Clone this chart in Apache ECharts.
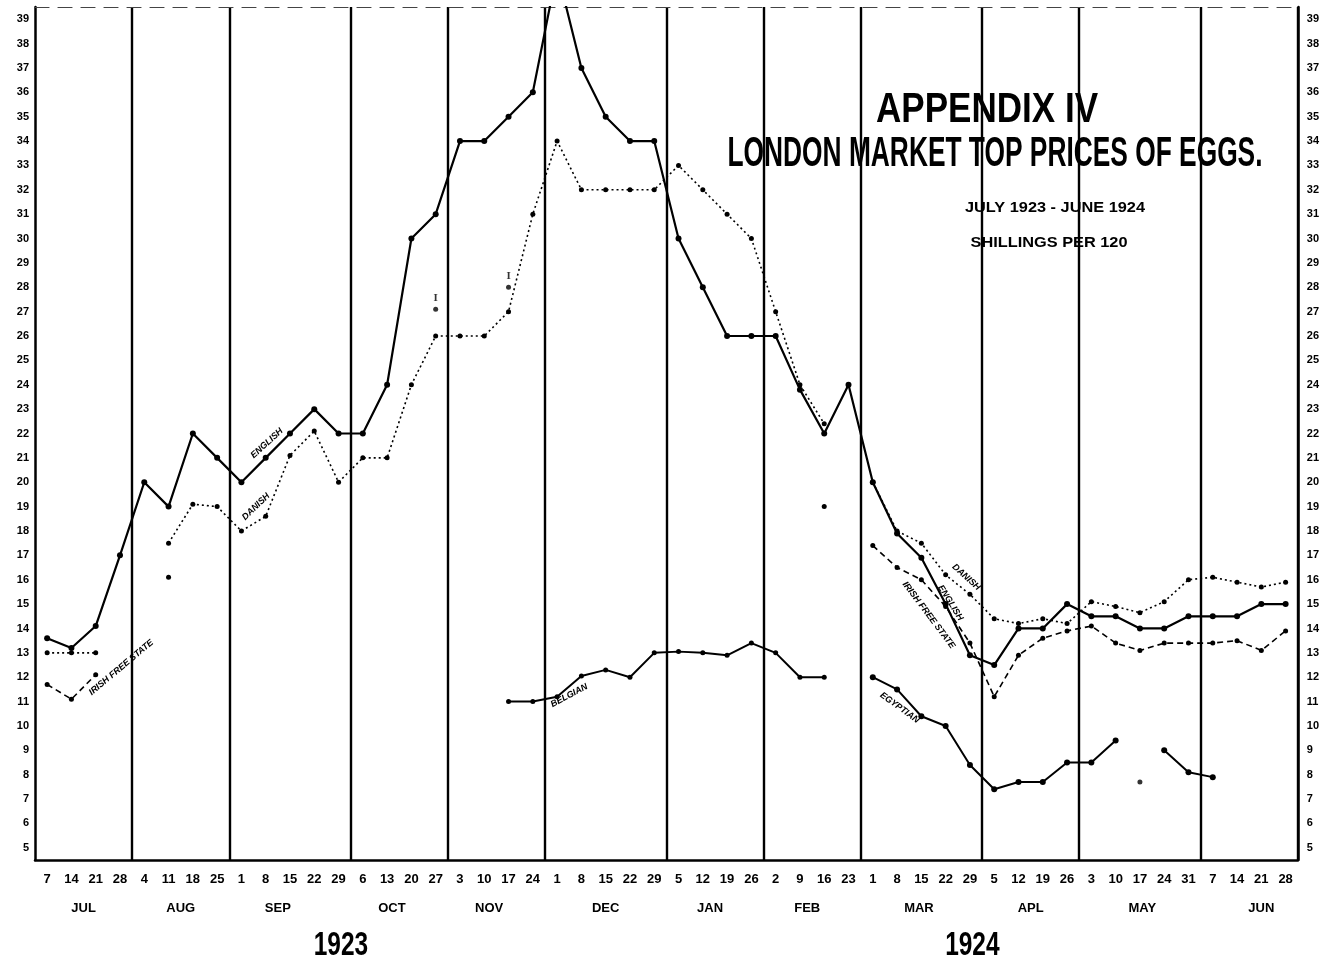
<!DOCTYPE html>
<html><head><meta charset="utf-8">
<script src="https://cdn.jsdelivr.net/npm/echarts@6/dist/echarts.min.js"></script>
<style>html,body{margin:0;padding:0;background:#fff}#c{width:1322px;height:964px}</style>
</head><body><div id="c"></div>
<script>
// ---- data ----
const weekLabels = ['7','14','21','28','4','11','18','25','1','8','15','22','29','6','13','20','27','3','10','17','24','1','8','15','22','29','5','12','19','26','2','9','16','23','1','8','15','22','29','5','12','19','26','3','10','17','24','31','7','14','21','28'];
const monthNames = ['JUL','AUG','SEP','OCT','NOV','DEC','JAN','FEB','MAR','APL','MAY','JUN'];
const monthWeeks = [4,4,5,4,4,5,4,4,5,4,5,4];
const yearNames = ['1923','1924'];
const yearMonths = [6,6];
const english = [13.6,13.2,14.1,17,20,19,22,21,20,21,22,23,22,22,24,30,31,34,34,35,36,41,37,35,34,34,30,28,26,26,26,23.8,22,24,
  20,17.9,16.9,15,12.9,12.5,14,14,15,14.5,14.5,14,14,14.5,14.5,14.5,15,15];
const danish = [13,13,13,null,null,17.5,19.1,19,18,18.6,21.1,22.1,20,21,21,24,26,26,26,27,31,34,32,32,32,32,33,32,31,30,27,24,22.4,null,
  20,18,17.5,16.2,15.4,14.4,14.2,14.4,14.2,15.1,14.9,14.65,15.1,16,16.1,15.9,15.7,15.9];
const irish = [11.7,11.1,12.1,null,null,16.1,null,null,null,null,null,null,null,null,null,null,null,null,null,null,null,null,null,null,null,null,null,null,null,null,null,null,19,null,
  17.4,16.5,16,14.9,13.4,11.2,12.9,13.6,13.9,14.1,13.4,13.1,13.4,13.4,13.4,13.5,13.1,13.9];
const belgian = [null,null,null,null,null,null,null,null,null,null,null,null,null,null,null,null,null,null,null,
  11,11,11.2,12.05,12.3,12,13,13.05,13,12.9,13.4,13,12,12,null,
  null,null,null,null,null,null,null,null,null,null,null,null,null,null,null,null,null,null];
const egyptian = [null,null,null,null,null,null,null,null,null,null,null,null,null,null,null,null,null,null,null,null,null,null,null,null,null,null,null,null,null,null,null,null,null,null,
  12,11.5,10.4,10,8.4,7.4,7.7,7.7,8.5,8.5,9.4,null,9,8.1,7.9,null,null,null];
const markedQuotes = [[16,27.1],[19,28]];   // isolated quotations marked "I"
const strayQuotes = [[45,7.7]];
const titleLines = ['APPENDIX IV','LONDON MARKET TOP PRICES OF EGGS.','JULY 1923 - JUNE 1924','SHILLINGS PER 120'];

// ---- layout (annotation placement, in week units / axis values) ----
const monthLabelShift = [0,0,-0.5,-0.3,-0.3,0,-0.2,-0.2,-0.1,0,0.1,0.5];
const lineTags = [
  {text:'ENGLISH', idx:9.05, val:21.6, deg:42},
  {text:'DANISH', idx:8.6, val:19.0, deg:44},
  {text:'IRISH FREE STATE', idx:3.05, val:12.4, deg:40},
  {text:'BELGIAN', idx:21.5, val:11.25, deg:28},
  {text:'EGYPTIAN', idx:35.1, val:10.75, deg:-36},
  {text:'DANISH', idx:37.85, val:16.1, deg:-42},
  {text:'ENGLISH', idx:37.2, val:15.05, deg:-58},
  {text:'IRISH FREE STATE', idx:36.3, val:14.55, deg:-53}
];

// ---- chart ----
const FONT = '"Liberation Sans Narrow","Liberation Sans",sans-serif';
const chart = echarts.init(document.getElementById('c'), null, {renderer:'canvas'});
const starts = []; let acc = 0; monthWeeks.forEach(w => { starts.push(acc); acc += w; });
const sepIdx = new Set(starts.slice(1));

const yAxisBase = pos => ({
  type:'value', min:4.5, max:39.5, minInterval:1, maxInterval:1, position:pos,
  axisLine:{show:true, lineStyle:{color:'#000', width:2.5}}, axisTick:{show:false}, splitLine:{show:false},
  axisLabel:{formatter: v => Number.isInteger(v) ? String(v) : '', color:'#000', fontFamily:FONT, fontWeight:'bold', fontSize:11, margin:pos==='left'?6:9}
});
const lineSeries = (name, data, dash, width, size) => ({
  name, type:'line', data, symbol:'circle', symbolSize:size, showAllSymbol:true, connectNulls:false,
  lineStyle:{color:'#000', width, type:dash}, itemStyle:{color:'#000'}, emphasis:{disabled:true}
});

chart.setOption({
  animation:false, backgroundColor:'#fff',
  grid:{left:35, right:21, top:7, height:853},
  xAxis:[
    {type:'category', data:weekLabels, boundaryGap:true,
     axisLine:{lineStyle:{color:'#000', width:2.5}}, axisTick:{show:false},
     axisLabel:{interval:0, color:'#000', fontFamily:FONT, fontWeight:'bold', fontSize:13, margin:13},
     splitLine:{show:true, interval:(i)=>sepIdx.has(i), lineStyle:{color:'#000', width:2.4}}},
    {type:'category', data:weekLabels, position:'top', boundaryGap:true,
     axisLine:{lineStyle:{color:'#444', width:1.2, type:[14,9]}}, axisTick:{show:false}, axisLabel:{show:false}}
  ],
  yAxis:[yAxisBase('left'), yAxisBase('right')],
  series:[
    lineSeries('English', english, 'solid', 2.2, 6),
    lineSeries('Danish', danish, [2,3], 1.6, 5),
    lineSeries('Irish Free State', irish, [6,4], 1.6, 5),
    lineSeries('Belgian', belgian, 'solid', 2, 5),
    lineSeries('Egyptian', egyptian, 'solid', 2, 6),
    {type:'scatter', data:markedQuotes, symbol:'circle', symbolSize:5, itemStyle:{color:'#000'},
     label:{show:true, position:'top', formatter:'I', color:'#000', fontFamily:'serif', fontWeight:'bold', fontSize:11, distance:3}},
    {type:'scatter', data:strayQuotes, symbol:'circle', symbolSize:5, itemStyle:{color:'#000'}}
  ]
});

// ---- annotations via the chart's own scales ----
function px(idx, val){
  const i0 = Math.floor(idx), f = idx - i0;
  const a = chart.convertToPixel({gridIndex:0}, [i0, val]);
  if (f === 0) return a;
  const b = chart.convertToPixel({gridIndex:0}, [i0 + 1, val]);
  return [a[0] + (b[0]-a[0])*f, a[1]];
}
const ctx = document.createElement('canvas').getContext('2d');
function fit(text, font, w){ ctx.font = font; return w / ctx.measureText(text).width; }

const g = [];
const axisY = px(0, 4.5)[1];
starts.forEach((s, m) => {
  const mid = s + (monthWeeks[m]-1)/2 + monthLabelShift[m];
  g.push({type:'text', x:px(mid, 4.5)[0], y:axisY+48, style:{text:monthNames[m], fill:'#000', font:'bold 13px '+FONT, align:'center', verticalAlign:'middle'}});
});
let mAcc = 0;
yearNames.forEach((yr, k) => {
  const first = starts[mAcc], lastM = mAcc + yearMonths[k] - 1;
  const last = starts[lastM] + monthWeeks[lastM] - 1;
  mAcc += yearMonths[k];
  g.push({type:'text', x:px((first+last)/2 - 0.4, 4.5)[0], y:axisY+86, scaleX:0.72,
    style:{text:yr, fill:'#000', font:'bold 34px '+FONT, align:'center', verticalAlign:'middle'}});
});
lineTags.forEach(t => {
  const p = px(t.idx, t.val);
  g.push({type:'text', x:p[0], y:p[1], rotation:t.deg*Math.PI/180,
    style:{text:t.text, fill:'#000', font:'italic bold 9px '+FONT, align:'center', verticalAlign:'middle'}});
});
const tFont1 = 'bold 42px '+FONT;
g.push({type:'text', x:987, y:110, scaleX:fit(titleLines[0], tFont1, 222), style:{text:titleLines[0], fill:'#000', font:tFont1, align:'center', verticalAlign:'middle'}});
g.push({type:'text', x:995, y:154, scaleX:fit(titleLines[1], tFont1, 535), style:{text:titleLines[1], fill:'#000', font:tFont1, align:'center', verticalAlign:'middle'}});
const tFont2 = 'bold 15px '+FONT;
g.push({type:'text', x:1055, y:208, scaleX:fit(titleLines[2], tFont2, 180), style:{text:titleLines[2], fill:'#000', font:tFont2, align:'center', verticalAlign:'middle'}});
g.push({type:'text', x:1049, y:243, scaleX:fit(titleLines[3], tFont2, 157), style:{text:titleLines[3], fill:'#000', font:tFont2, align:'center', verticalAlign:'middle'}});
chart.setOption({graphic:g});
</script></body></html>
